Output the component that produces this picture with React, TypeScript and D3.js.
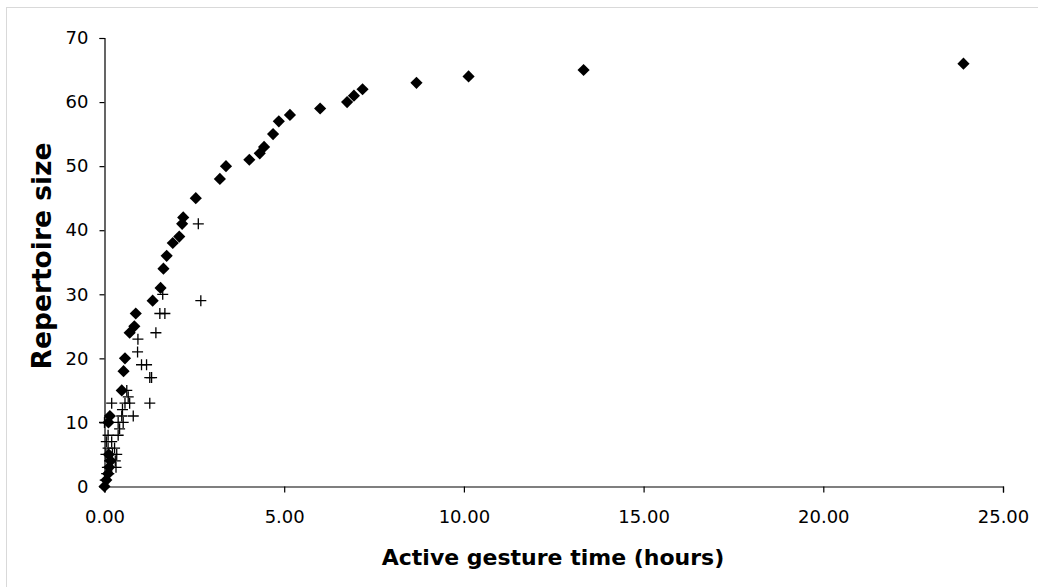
import React, { useEffect, useRef } from 'react'
import * as d3 from 'd3'

// diamonds: cumulative repertoire vs active gesture time
const gestureHours = [
  0, 0.05, 0.1, 0.13, 0.17, 0.12, 0.11, 0.15, 0.48, 0.53, 0.57, 0.7, 0.83, 0.87,
  1.34, 1.56, 1.64, 1.73, 1.9, 2.08, 2.16, 2.19, 2.54, 3.21, 3.38, 4.03, 4.32,
  4.44, 4.69, 4.85, 5.16, 6.0, 6.75, 6.94, 7.18, 8.68, 10.13, 13.33, 23.9,
]
const repertoire = [
  0, 1, 2, 3, 4, 5, 10, 11, 15, 18, 20, 24, 25, 27, 29, 31, 34, 36, 38, 39, 41,
  42, 45, 48, 50, 51, 52, 53, 55, 57, 58, 59, 60, 61, 62, 63, 64, 65, 66,
]

// crosses
const otherHours = [
  0.02, 0.06, 0.12, 0.08, 0.2, 0.32, 0.14, 0.3, 0.04, 0.22, 0.34, 0.1, 0.28, 0.05,
  0.2, 0.1, 0.38, 0.42, 0.0, 0.38, 0.52, 0.48, 0.8, 0.5, 0.2, 0.57, 0.7, 1.26,
  0.66, 0.62, 1.26, 1.31, 1.03, 1.17, 0.92, 0.93, 1.43, 1.54, 1.68, 1.62, 2.68, 2.61,
]
const otherRepertoire = [
  1, 2, 2, 3, 3, 3, 4, 4, 5, 5, 5, 6, 6, 7, 7, 8, 8, 9, 10, 10, 10, 11, 11, 12, 13,
  13, 13, 13, 14, 15, 17, 17, 19, 19, 21, 23, 24, 27, 27, 30, 29, 41,
]

const xTicks = [0, 5, 10, 15, 20, 25]
const yTicks = [0, 10, 20, 30, 40, 50, 60, 70]

const App = () => {
  const ref = useRef<SVGSVGElement>(null)

  useEffect(() => {
    const svg = d3.select(ref.current)
    svg.selectAll('*').remove()

    const left = 104.5
    const right = 1003
    const top = 38
    const bottom = 486.5

    // light frame, clipped at right and bottom
    svg
      .append('rect')
      .attr('x', 6.5)
      .attr('y', 7.5)
      .attr('width', 1200)
      .attr('height', 800)
      .attr('fill', 'none')
      .attr('stroke', '#d9d9d9')

    const x = d3.scaleLinear().domain([0, 25]).range([left, right])
    const y = d3.scaleLinear().domain([0, 70]).range([bottom, top])

    const xAxis = svg
      .append('g')
      .attr('transform', `translate(0,${bottom})`)
      .call(
        d3.axisBottom(x).tickValues(xTicks).tickFormat(d3.format('.2f')).tickSize(6).tickPadding(18)
      )
    const yAxis = svg
      .append('g')
      .attr('transform', `translate(${left},0)`)
      .call(d3.axisLeft(y).tickValues(yTicks).tickFormat(d3.format('d')).tickSize(5).tickPadding(11))

    ;[xAxis, yAxis].forEach((g) => {
      g.attr('font-family', 'DejaVu Sans, Verdana, sans-serif').attr('font-size', 18)
      g.selectAll('path, line').attr('stroke', '#000').attr('stroke-width', 1.2)
      g.selectAll('text').attr('fill', '#000')
    })

    const diamond = d3.symbol().type(d3.symbolSquare).size(74)

    svg
      .append('g')
      .selectAll('path')
      .data(gestureHours.map((h, i) => [h, repertoire[i]]))
      .enter()
      .append('path')
      .attr('d', diamond)
      .attr('transform', (d) => `translate(${x(d[0])},${y(d[1])}) rotate(45)`)
      .attr('fill', '#000')

    svg
      .append('g')
      .selectAll('path')
      .data(otherHours.map((h, i) => [h, otherRepertoire[i]]))
      .enter()
      .append('path')
      .attr('d', 'M-5.5,0H5.5M0,-5.5V5.5')
      .attr('transform', (d) => `translate(${x(d[0])},${y(d[1])})`)
      .attr('fill', 'none')
      .attr('stroke', '#000')
      .attr('stroke-width', 1.3)

    svg
      .append('text')
      .attr('x', 553)
      .attr('y', 565)
      .attr('text-anchor', 'middle')
      .attr('font-family', 'DejaVu Sans, Verdana, sans-serif')
      .attr('font-weight', 'bold')
      .attr('font-size', 22)
      .text('Active gesture time (hours)')

    svg
      .append('text')
      .attr('transform', `translate(51,256) rotate(-90)`)
      .attr('text-anchor', 'middle')
      .attr('font-family', 'DejaVu Sans, Verdana, sans-serif')
      .attr('font-weight', 'bold')
      .attr('font-size', 26.5)
      .text('Repertoire size')
  }, [])

  return (
    <svg
      ref={ref}
      width={1038}
      height={587}
      style={{ position: 'absolute', left: 0, top: 0, background: '#fff' }}
    />
  )
}

export default App
